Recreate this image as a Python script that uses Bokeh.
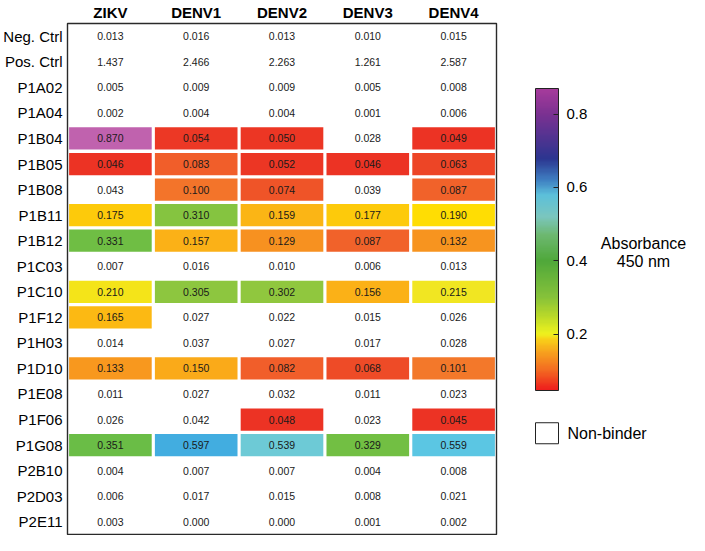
import numpy as np
from bokeh.plotting import figure
from bokeh.layouts import row
from bokeh.models import (ColumnDataSource, LinearColorMapper, ColorBar, FixedTicker,
                          Label, BoxAnnotation, FactorRange, Range1d)
from bokeh.transform import transform
from bokeh.core.properties import value
from bokeh.embed import file_html
from bokeh.resources import INLINE

# ---------------- data ----------------
rows = ["Neg. Ctrl", "Pos. Ctrl", "P1A02", "P1A04", "P1B04", "P1B05", "P1B08", "P1B11",
        "P1B12", "P1C03", "P1C10", "P1F12", "P1H03", "P1D10", "P1E08", "P1F06", "P1G08",
        "P2B10", "P2D03", "P2E11"]
cols = ["ZIKV", "DENV1", "DENV2", "DENV3", "DENV4"]

zikv  = [0.013, 1.437, 0.005, 0.002, 0.870, 0.046, 0.043, 0.175, 0.331, 0.007, 0.210, 0.165,
         0.014, 0.133, 0.011, 0.026, 0.351, 0.004, 0.006, 0.003]
denv1 = [0.016, 2.466, 0.009, 0.004, 0.054, 0.083, 0.100, 0.310, 0.157, 0.016, 0.305, 0.027,
         0.037, 0.150, 0.027, 0.042, 0.597, 0.007, 0.017, 0.000]
denv2 = [0.013, 2.263, 0.009, 0.004, 0.050, 0.052, 0.074, 0.159, 0.129, 0.010, 0.302, 0.022,
         0.027, 0.082, 0.032, 0.048, 0.539, 0.007, 0.015, 0.000]
denv3 = [0.010, 1.261, 0.005, 0.001, 0.028, 0.046, 0.039, 0.177, 0.087, 0.006, 0.156, 0.015,
         0.017, 0.068, 0.011, 0.023, 0.329, 0.004, 0.008, 0.001]
denv4 = [0.015, 2.587, 0.008, 0.006, 0.049, 0.063, 0.087, 0.190, 0.132, 0.013, 0.215, 0.026,
         0.028, 0.101, 0.023, 0.045, 0.559, 0.008, 0.021, 0.002]

# 1 = binder (coloured cell), 0 = non-binder (white cell)
zikv_b  = [0, 0, 0, 0, 1, 1, 0, 1, 1, 0, 1, 1, 0, 1, 0, 0, 1, 0, 0, 0]
denv1_b = [0, 0, 0, 0, 1, 1, 1, 1, 1, 0, 1, 0, 0, 1, 0, 0, 1, 0, 0, 0]
denv2_b = [0, 0, 0, 0, 1, 1, 1, 1, 1, 0, 1, 0, 0, 1, 0, 1, 1, 0, 0, 0]
denv3_b = [0, 0, 0, 0, 0, 1, 0, 1, 1, 0, 1, 0, 0, 1, 0, 0, 1, 0, 0, 0]
denv4_b = [0, 0, 0, 0, 1, 1, 1, 1, 1, 0, 1, 0, 0, 1, 0, 1, 1, 0, 0, 0]

scale_low, scale_high = 0.046, 0.870
cbar_ticks = [0.2, 0.4, 0.6, 0.8]
cbar_title = ["Absorbance", "450 nm"]
legend_label = "Non-binder"

series = {"ZIKV": (zikv, zikv_b), "DENV1": (denv1, denv1_b), "DENV2": (denv2, denv2_b),
          "DENV3": (denv3, denv3_b), "DENV4": (denv4, denv4_b)}

# ---------------- palettes (styling) ----------------
def build_palette(anchors, lo, hi, n=256):
    vs = np.array([a[0] for a in anchors])
    cs = np.array([[int(c[i:i + 2], 16) for i in (1, 3, 5)] for _, c in anchors], dtype=float)
    out = []
    for x in np.linspace(lo, hi, n):
        rgb = [int(round(np.interp(x, vs, cs[:, k]))) for k in range(3)]
        out.append("#%02x%02x%02x" % tuple(rgb))
    return out

cell_anchors = [(0.046, "#EC3324"), (0.055, "#EC3A25"), (0.07, "#EF5228"), (0.085, "#F1622A"),
                (0.10, "#F3772A"), (0.13, "#F7941F"), (0.155, "#FBB017"), (0.176, "#FDCB0B"),
                (0.19, "#FFE002"), (0.215, "#F0E623"), (0.305, "#8CC63F"), (0.33, "#6FBE44"),
                (0.36, "#68BD47"), (0.45, "#6CC39A"), (0.54, "#6DCAD6"), (0.56, "#5BC6E3"),
                (0.60, "#41ACE0"), (0.68, "#3A5BB5"), (0.78, "#7E4CA6"), (0.87, "#C062AE")]
bar_anchors = [(0.046, "#EE1D1D"), (0.10, "#F36A21"), (0.15, "#F7A21E"), (0.185, "#F8D218"),
               (0.20, "#EEF21E"), (0.25, "#B8D82A"), (0.30, "#86C23A"), (0.40, "#4FA83A"),
               (0.47, "#6DB870"), (0.52, "#7BC6BE"), (0.58, "#5CC0DA"), (0.62, "#3F80C2"),
               (0.68, "#2C3590"), (0.80, "#7A3191"), (0.87, "#A63B9C")]

cell_palette = build_palette(cell_anchors, scale_low, scale_high)
bar_palette = build_palette(bar_anchors, scale_low, scale_high)

cell_mapper = LinearColorMapper(palette=cell_palette, low=scale_low, high=scale_high)
bar_mapper = LinearColorMapper(palette=bar_palette, low=scale_low, high=scale_high)

# ---------------- sources ----------------
all_x, all_y, all_t = [], [], []
c_x, c_y, c_v = [], [], []
for c in cols:
    vals, flags = series[c]
    for r, v, f in zip(rows, vals, flags):
        all_x.append(c); all_y.append(r); all_t.append(f"{v:.3f}")
        if f:
            c_x.append(c); c_y.append(r); c_v.append(v)

cells = ColumnDataSource(dict(col=c_x, row=c_y, val=c_v))
texts = ColumnDataSource(dict(col=all_x, row=all_y, label=all_t))

FONT = "Liberation Sans"
H = 535
W_MAIN, W_SIDE = 498, 191

# ---------------- heatmap ----------------
p = figure(width=W_MAIN, height=H,
           x_range=FactorRange(*cols), y_range=FactorRange(*rows[::-1]),
           x_axis_location="above", toolbar_location=None, output_backend="svg",
           min_border_left=60, min_border_right=2, min_border_top=4, min_border_bottom=1)

p.xgrid.visible = False
p.ygrid.visible = False
p.outline_line_color = "#2a2a2a"
p.outline_line_width = 1.4

for ax, style, standoff in ((p.xaxis, "bold", 3), (p.yaxis, "normal", 5)):
    ax.axis_line_color = None
    ax.major_tick_line_color = None
    ax.minor_tick_line_color = None
    ax.major_tick_out = 0
    ax.major_tick_in = 0
    ax.minor_tick_out = 0
    ax.minor_tick_in = 0
    ax.major_label_text_font = FONT
    ax.major_label_text_font_size = "15px"
    ax.major_label_text_font_style = style
    ax.major_label_text_color = "black"
    ax.major_label_standoff = standoff

p.rect(x="col", y="row", width=0.963, height=0.87, source=cells,
       fill_color=transform("val", cell_mapper), line_color=None)
p.text(x="col", y="row", text="label", source=texts, text_align="center",
       text_baseline="middle", text_font=value(FONT), text_font_size="10.5px",
       text_color="#1a1a1a")

# ---------------- side panel: colour bar + legend (1 unit = 1 px) ----------------
q = figure(width=W_SIDE, height=H, x_range=Range1d(0, W_SIDE), y_range=Range1d(0, H),
           toolbar_location=None, output_backend="svg", x_axis_location=None,
           y_axis_location=None, min_border=0, outline_line_color=None)
q.xgrid.visible = False
q.ygrid.visible = False

cb = ColorBar(color_mapper=bar_mapper, ticker=FixedTicker(ticks=cbar_ticks),
              width=23, height=302, location=(37, 144), padding=0, margin=0,
              bar_line_color="#222222", bar_line_width=1,
              major_tick_in=5, major_tick_out=0, major_tick_line_color="#222222",
              minor_tick_line_color=None, label_standoff=8,
              major_label_text_font=FONT, major_label_text_font_size="15px",
              major_label_text_color="black",
              background_fill_alpha=0, border_line_color=None)
q.add_layout(cb, "center")

for txt, yy in zip(cbar_title, (305, 286)):
    q.add_layout(Label(x=145, y=yy, text=txt, text_align="center", text_baseline="middle",
                       text_font=FONT, text_font_size="16px", text_color="black"))

q.add_layout(BoxAnnotation(left=37, right=60, bottom=95, top=117, fill_color="white",
                           fill_alpha=1, line_color="#222222", line_width=1, line_alpha=1))
q.add_layout(Label(x=69, y=106, text=legend_label, text_align="left", text_baseline="middle",
                   text_font=FONT, text_font_size="16px", text_color="black"))

layout = row(p, q, spacing=0)
open("out.html", "w").write(file_html(layout, INLINE))
